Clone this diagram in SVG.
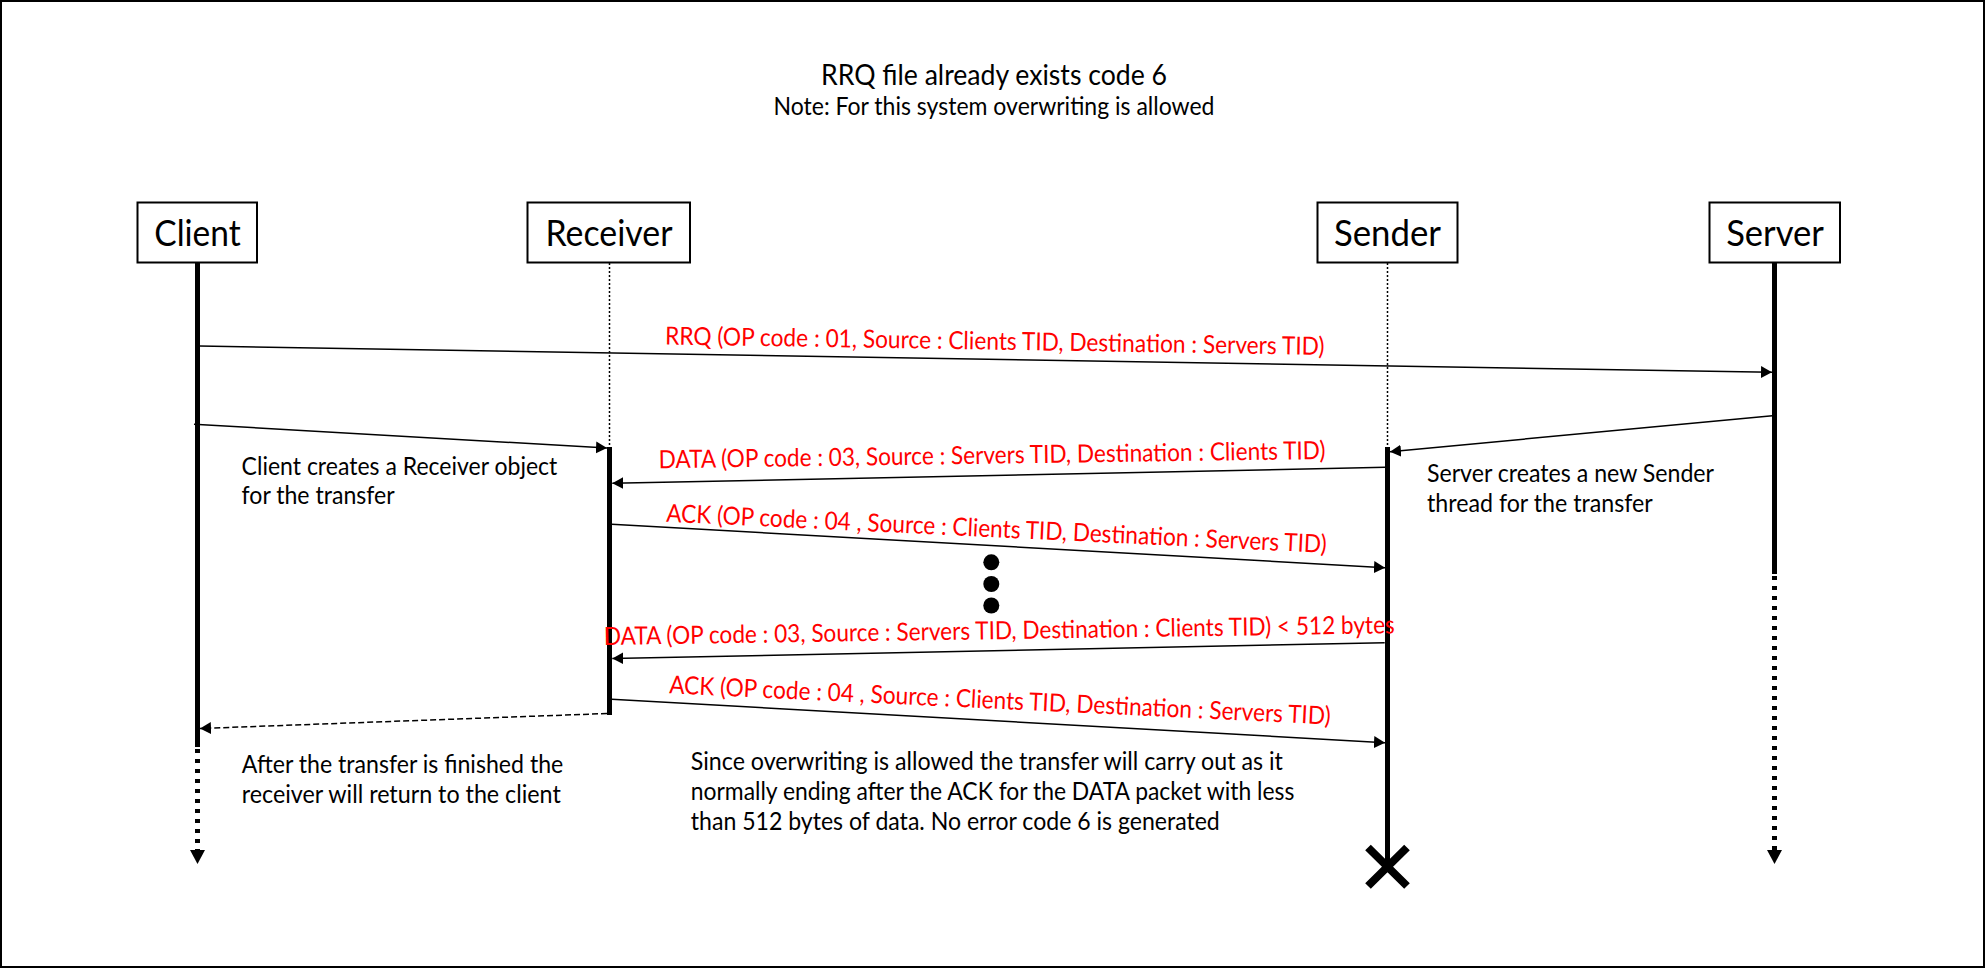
<svg xmlns="http://www.w3.org/2000/svg" width="1985" height="968" viewBox="0 0 1985 968">
<style>
  text { font-family: Lato, "Liberation Sans", sans-serif; }
  .box { fill: #fff; stroke: #000; stroke-width: 2; }
  .lbl { font-size: 36px; text-anchor: middle; fill: #000; }
  .life { stroke: #000; stroke-width: 5; fill: none; }
  .lifedash { stroke: #000; stroke-width: 5; stroke-dasharray: 4 6; fill: none; }
  .dot { stroke: #000; stroke-width: 1.5; stroke-dasharray: 2 2; fill: none; }
  .msg { stroke: #000; stroke-width: 1.5; fill: none; marker-end: url(#ah); }
  .ret { stroke: #000; stroke-width: 1.5; stroke-dasharray: 6 3; fill: none; marker-end: url(#ah); }
  .head { fill: #000; stroke: none; }
  .red { font-size: 25px; fill: #ff0000; }
  .note { font-size: 25px; fill: #000; }
</style>
<defs>
  <marker id="ah" markerUnits="userSpaceOnUse" markerWidth="12" markerHeight="13" refX="11" refY="6" orient="auto" viewBox="0 0 12 13">
    <path d="M0,0 L11,6 L0,12 z" fill="#000" stroke="none"/>
  </marker>
</defs>
<rect x="1" y="1" width="1983" height="966" fill="#fff" stroke="#000" stroke-width="2"/>

<g id="title">
  <text x="994" y="85" font-size="29" text-anchor="middle" textLength="346" lengthAdjust="spacingAndGlyphs">RRQ file already exists code 6</text>
  <text x="994" y="115" font-size="25" text-anchor="middle" textLength="441" lengthAdjust="spacingAndGlyphs">Note: For this system overwriting is allowed</text>
</g>

<g id="client">
  <rect class="box" x="137.5" y="202.5" width="119.5" height="60"/>
  <text class="lbl" x="197.5" y="246" textLength="86.5" lengthAdjust="spacingAndGlyphs">Client</text>
  <line class="life" x1="197.5" y1="263" x2="197.5" y2="747"/>
  <line class="lifedash" x1="197.5" y1="749" x2="197.5" y2="851"/>
  <polygon class="head" points="190,850 205,850 197.5,864"/>
</g>

<g id="receiver">
  <rect class="box" x="527.5" y="202.5" width="162.5" height="60"/>
  <text class="lbl" x="609" y="246" textLength="127" lengthAdjust="spacingAndGlyphs">Receiver</text>
  <line class="dot" x1="609.5" y1="263" x2="609.5" y2="447"/>
  <line class="life" x1="609.5" y1="447" x2="609.5" y2="715"/>
</g>

<g id="sender">
  <rect class="box" x="1317.5" y="202.5" width="140" height="60"/>
  <text class="lbl" x="1387.5" y="246" textLength="107" lengthAdjust="spacingAndGlyphs">Sender</text>
  <line class="dot" x1="1387.5" y1="263" x2="1387.5" y2="447"/>
  <line class="life" x1="1387.5" y1="447" x2="1387.5" y2="866"/>
  <path d="M1368,847.5 L1407,886 M1407,847.5 L1368,886" stroke="#000" stroke-width="8" fill="none"/>
</g>

<g id="server">
  <rect class="box" x="1709.5" y="202.5" width="130.5" height="60"/>
  <text class="lbl" x="1775" y="246" textLength="97.7" lengthAdjust="spacingAndGlyphs">Server</text>
  <line class="life" x1="1774.5" y1="263" x2="1774.5" y2="574"/>
  <line class="lifedash" x1="1774.5" y1="576" x2="1774.5" y2="851"/>
  <polygon class="head" points="1767,850 1782,850 1774.5,864"/>
</g>

<g id="connectors">
  <line class="msg" x1="199.5" y1="346" x2="1772" y2="372.3"/>
  <line class="msg" x1="194" y1="424.3" x2="607" y2="448"/>
  <line class="msg" x1="1772.4" y1="415.7" x2="1390" y2="451.7"/>
  <line class="msg" x1="1385.5" y1="467.3" x2="612.3" y2="483.3"/>
  <line class="msg" x1="611.7" y1="524.3" x2="1385" y2="567.7"/>
  <line class="msg" x1="1384.7" y1="642.7" x2="612.3" y2="658.5"/>
  <line class="msg" x1="611.7" y1="699.3" x2="1385" y2="742.7"/>
  <line class="ret" x1="607" y1="713.5" x2="200" y2="728.5"/>

  <text class="red" transform="translate(665,344.5) rotate(0.9)" textLength="659.5" lengthAdjust="spacingAndGlyphs">RRQ (OP code : 01, Source : Clients TID, Destination : Servers TID)</text>
  <text class="red" transform="translate(658.7,468.3) rotate(-0.8)" textLength="667" lengthAdjust="spacingAndGlyphs">DATA (OP code : 03, Source : Servers TID, Destination : Clients TID)</text>
  <text class="red" transform="translate(666,521.7) rotate(2.7)" textLength="661" lengthAdjust="spacingAndGlyphs">ACK (OP code : 04 , Source : Clients TID, Destination : Servers TID)</text>
  <text class="red" transform="translate(604,645) rotate(-0.85)" textLength="791" lengthAdjust="spacingAndGlyphs">DATA (OP code : 03, Source : Servers TID, Destination : Clients TID) &lt; 512 bytes</text>
  <text class="red" transform="translate(668.9,693.3) rotate(2.7)" textLength="662" lengthAdjust="spacingAndGlyphs">ACK (OP code : 04 , Source : Clients TID, Destination : Servers TID)</text>

  <circle cx="991.3" cy="562.3" r="8" fill="#000"/>
  <circle cx="991.3" cy="584" r="8" fill="#000"/>
  <circle cx="991.3" cy="605.5" r="8" fill="#000"/>
</g>

<g id="note-client">
  <text class="note" x="241.6" y="475" textLength="315.7" lengthAdjust="spacingAndGlyphs">Client creates a Receiver object</text>
  <text class="note" x="241.6" y="504" textLength="153" lengthAdjust="spacingAndGlyphs">for the transfer</text>
</g>
<g id="note-server">
  <text class="note" x="1427" y="482" textLength="287" lengthAdjust="spacingAndGlyphs">Server creates a new Sender</text>
  <text class="note" x="1427" y="512" textLength="225.7" lengthAdjust="spacingAndGlyphs">thread for the transfer</text>
</g>
<g id="note-return">
  <text class="note" x="241.8" y="773" textLength="321.5" lengthAdjust="spacingAndGlyphs">After the transfer is finished the</text>
  <text class="note" x="241.8" y="803" textLength="319" lengthAdjust="spacingAndGlyphs">receiver will return to the client</text>
</g>
<g id="note-end">
  <text class="note" x="690.8" y="770" textLength="592" lengthAdjust="spacingAndGlyphs">Since overwriting is allowed the transfer will carry out as it</text>
  <text class="note" x="690.8" y="800" textLength="603.6" lengthAdjust="spacingAndGlyphs">normally ending after the ACK for the DATA packet with less</text>
  <text class="note" x="690.8" y="830" textLength="529" lengthAdjust="spacingAndGlyphs">than 512 bytes of data. No error code 6 is generated</text>
</g>
</svg>
